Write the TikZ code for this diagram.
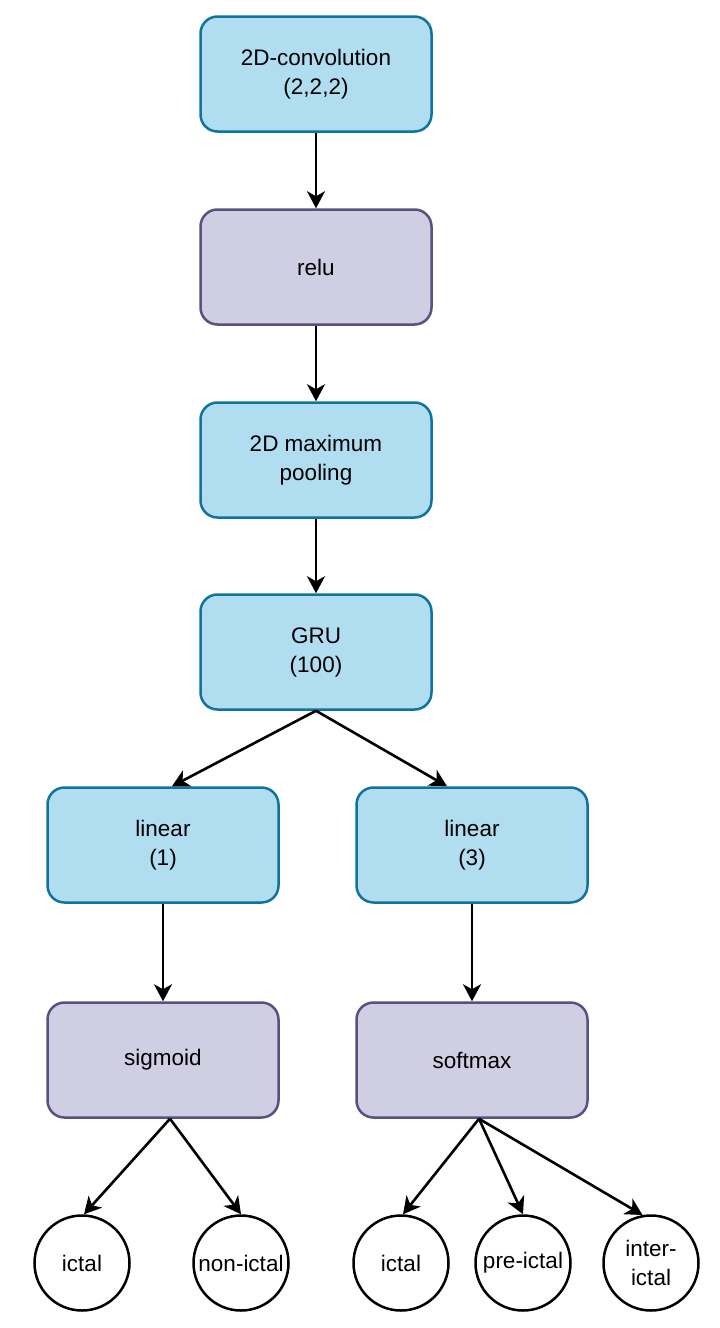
\documentclass[tikz,border=0pt]{standalone}
\usepackage{fontspec}
\setmainfont{Liberation Sans}
\usetikzlibrary{arrows.meta}
\definecolor{bfill}{HTML}{B1DDF0}
\definecolor{bdraw}{HTML}{10739E}
\definecolor{pfill}{HTML}{D0CEE2}
\definecolor{pdraw}{HTML}{56517E}
\tikzset{
  box/.style={rectangle, rounded corners=17pt, minimum width=231pt, minimum height=115pt, line width=2.5pt, align=center, inner sep=0pt, font=\fontsize{22.5}{29}\selectfont},
  bluebox/.style={box, fill=bfill, draw=bdraw},
  purplebox/.style={box, fill=pfill, draw=pdraw},
  outc/.style={circle, draw=black, line width=2.5pt, minimum size=95pt, inner sep=0pt},
  lbl/.style={font=\fontsize{22.5}{29}\selectfont, align=center},
  arr/.style={-{Stealth[length=17pt,width=18pt,inset=5pt]}, line width=2.6pt, black}
}
\begin{document}
\begin{tikzpicture}[x=1pt,y=-1pt]
\useasboundingbox (0,0) rectangle (720,1328);
\node[bluebox] (conv) at (316,74) {2D-convolution\\(2,2,2)};
\node[purplebox] (relu) at (316,267) {relu};
\node[bluebox] (pool) at (316,460) {2D maximum\\pooling};
\node[bluebox] (gru) at (316,652) {GRU\\(100)};
\node[bluebox] (lin1) at (163,845) {linear\\(1)};
\node[bluebox] (lin2) at (472,845) {linear\\(3)};
\node[purplebox] (sig) at (163,1060) {sigmoid};
\node[purplebox] (soft) at (472,1060) {softmax};
\node[outc] (c1) at (82,1263) {};
\node[lbl] at (c1) {ictal};
\node[outc] (c2) at (241,1263) {};
\node[lbl] at (c2) {non-ictal};
\node[outc] (c3) at (401,1263) {};
\node[lbl] at (c3) {ictal};
\node[outc] (c4) at (523,1263) {};
\node[lbl] at (c4) {pre-ictal};
\node[outc] (c5) at (651,1263) {};
\node[lbl] at (c5) {inter-\\ictal};
\draw[arr] (conv.south) -- (relu.north);
\draw[arr] (relu.south) -- (pool.north);
\draw[arr] (pool.south) -- (gru.north);
\draw[arr] (gru.south) -- ([xshift=9pt]lin1.north);
\draw[arr] (gru.south) -- ([xshift=-25pt]lin2.north);
\draw[arr] (lin1.south) -- (sig.north);
\draw[arr] (lin2.south) -- (soft.north);
\draw[arr] ([xshift=7pt]sig.south) -- ([xshift=2pt]c1.north);
\draw[arr] ([xshift=7pt]sig.south) -- (c2.north);
\draw[arr] ([xshift=7pt]soft.south) -- ([xshift=2pt]c3.north);
\draw[arr] ([xshift=7pt]soft.south) -- (c4.north);
\draw[arr] ([xshift=7pt]soft.south) -- (c5.100);
\end{tikzpicture}
\end{document}
